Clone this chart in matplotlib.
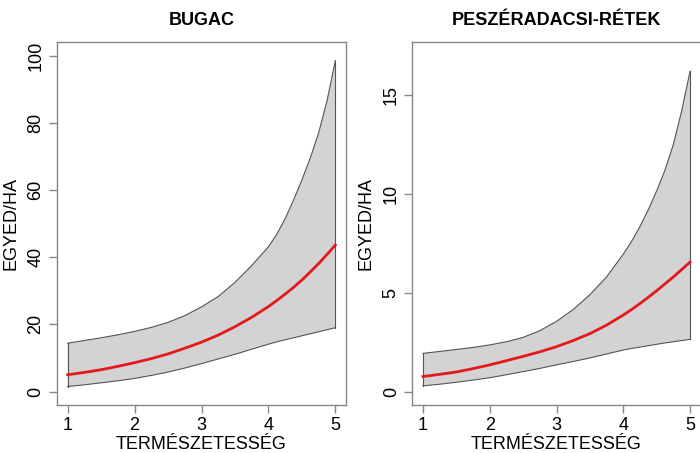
import matplotlib
matplotlib.use('Agg')
import matplotlib.pyplot as plt

plt.rcParams['font.family'] = ['Liberation Sans', 'DejaVu Sans']

x = [1.0, 1.25, 1.5, 1.75, 2.0, 2.25, 2.5, 2.75, 3.0, 3.25, 3.5, 3.75,
     4.0, 4.125, 4.25, 4.375, 4.5, 4.625, 4.75, 4.875, 5.0]

# BUGAC
bugac_fit = [5.0, 5.7, 6.5, 7.5, 8.6, 9.8, 11.2, 12.9, 14.7, 16.8, 19.3, 22.1,
             25.3, 27.1, 29.0, 31.0, 33.2, 35.6, 38.1, 40.8, 43.6]
bugac_upper = [14.4, 15.2, 16.0, 16.9, 17.9, 19.1, 20.6, 22.6, 25.2, 28.3, 32.5, 37.5,
               43.1, 46.8, 51.5, 57.0, 63.0, 69.5, 77.0, 86.5, 98.5]
bugac_lower = [1.5, 2.0, 2.6, 3.2, 3.9, 4.8, 5.8, 7.0, 8.3, 9.7, 11.1, 12.6,
               14.1, 14.8, 15.4, 16.0, 16.6, 17.2, 17.8, 18.4, 19.0]

# PESZERADACSI-RETEK
pesz_fit = [0.76, 0.87, 0.99, 1.16, 1.35, 1.56, 1.78, 2.01, 2.27, 2.58, 2.93, 3.36,
            3.87, 4.15, 4.45, 4.77, 5.1, 5.45, 5.8, 6.17, 6.55]
pesz_upper = [1.93, 2.03, 2.13, 2.23, 2.36, 2.52, 2.74, 3.08, 3.55, 4.15, 4.9, 5.8,
              6.95, 7.6, 8.35, 9.2, 10.15, 11.2, 12.5, 14.2, 16.2]
pesz_lower = [0.29, 0.37, 0.47, 0.58, 0.70, 0.85, 1.01, 1.17, 1.35, 1.52, 1.70, 1.90,
              2.10, 2.18, 2.25, 2.32, 2.39, 2.46, 2.52, 2.58, 2.64]

panels = [
    ("BUGAC", bugac_fit, bugac_upper, bugac_lower, (0, 100), [0, 20, 40, 60, 80, 100]),
    ("PESZÉRADACSI-RÉTEK", pesz_fit, pesz_upper, pesz_lower, (0, 17), [0, 5, 10, 15]),
]

fig = plt.figure(figsize=(7, 4.53), dpi=100)
positions = [[0.0814, 0.106, 0.413, 0.801], [0.589, 0.106, 0.412, 0.801]]

for pos, (title, fit, upper, lower, yl, yticks) in zip(positions, panels):
    ax = fig.add_axes(pos)
    ax.fill_between(x, lower, upper, facecolor='#d3d3d3', edgecolor='none')
    ax.plot(x, upper, color='#555555', lw=0.8)
    ax.plot(x, lower, color='#555555', lw=0.8)
    ax.plot([x[-1], x[-1]], [lower[-1], upper[-1]], color='#555555', lw=0.8)
    ax.plot([x[0], x[0]], [lower[0], upper[0]], color='#555555', lw=0.8)
    ax.plot(x, fit, color='#e3191c', lw=2)

    pad = 0.04 * (yl[1] - yl[0])
    ax.set_ylim(yl[0] - pad, yl[1] + pad)
    ax.set_xlim(0.84, 5.16)
    ax.set_xticks([1, 2, 3, 4, 5])
    ax.set_yticks(yticks)
    ax.set_yticklabels([str(t) for t in yticks], rotation=90, va='center')
    for s in ax.spines.values():
        s.set_color('#888888')
        s.set_linewidth(1)
    ax.tick_params(direction='out', length=6, width=1, color='#888888',
                   labelsize=13, pad=3)
    ax.set_title(title, fontsize=13, fontweight='bold', pad=12)
    ax.set_xlabel("TERMÉSZETESSÉG", fontsize=13, labelpad=1)
    ax.set_ylabel("EGYED/HA", fontsize=13, labelpad=6)

fig.savefig('out.png', dpi=100)
